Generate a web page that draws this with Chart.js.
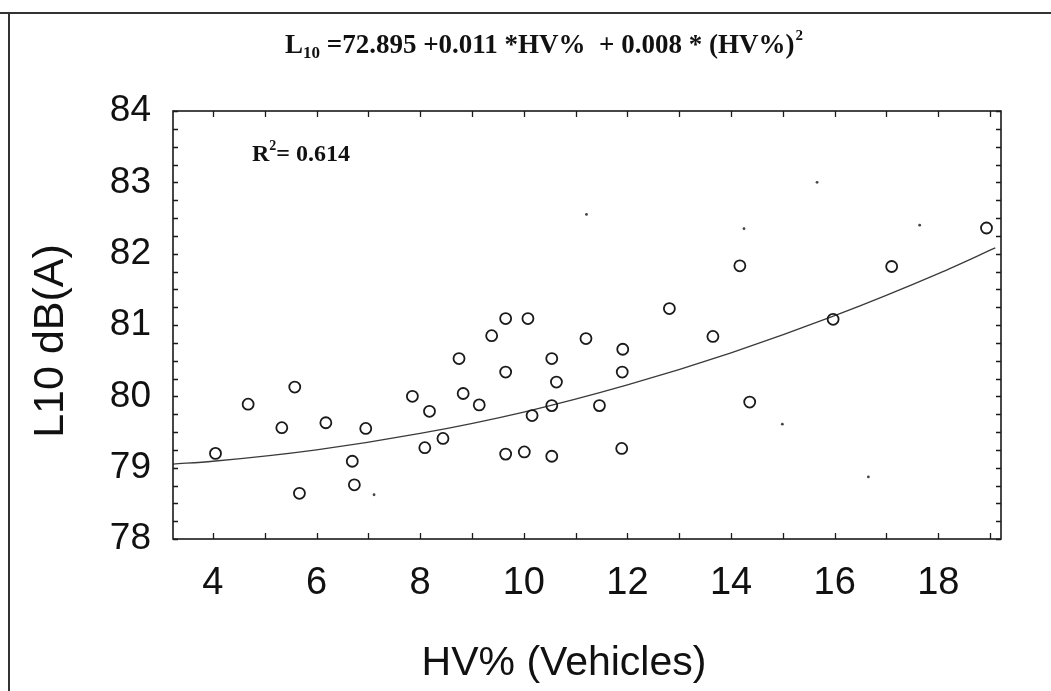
<!DOCTYPE html>
<html>
<head>
<meta charset="utf-8">
<title>L10 vs HV%</title>
<script src="https://cdn.jsdelivr.net/npm/chart.js@4.4.1/dist/chart.umd.min.js"></script>
<style>
  html, body { margin: 0; padding: 0; background: #fff; }
  #chart { display: block; }
</style>
</head>
<body>
<canvas id="chart" width="1051" height="691"></canvas>
<script>
// measured points (open circles)
const hvPct = [4.05, 4.68, 5.33, 5.58, 5.67, 6.18, 6.69, 6.73, 6.95, 7.85, 8.18, 8.09, 8.44, 8.75, 8.83, 9.14, 9.38, 9.65, 9.65, 9.65,
  10.08, 10.01, 10.16, 10.54, 10.63, 10.54, 10.54, 11.20, 11.46, 11.91, 11.90, 11.89, 12.81, 13.65, 14.17, 14.36, 15.97, 17.10, 18.93];
const l10 = [79.20, 79.89, 79.56, 80.13, 78.64, 79.63, 79.09, 78.76, 79.55, 80.00, 79.79, 79.28, 79.41, 80.53, 80.04, 79.88, 80.85, 81.09, 80.34, 79.19,
  81.09, 79.22, 79.73, 80.53, 80.20, 79.87, 79.16, 80.81, 79.87, 80.66, 80.34, 79.27, 81.23, 80.84, 81.83, 79.92, 81.08, 81.82, 82.36];

// small stray dots in the scan
const dotHv = [7.11, 11.21, 14.25, 14.99, 15.66, 16.65, 17.64];
const dotL10 = [78.62, 82.55, 82.35, 79.61, 83.00, 78.87, 82.40];

// fitted curve
const fitHv = [3.23, 4, 6, 8, 10, 12, 14, 16, 18, 19.1];
const fitL10 = [79.05, 79.09, 79.25, 79.48, 79.78, 80.16, 80.61, 81.13, 81.72, 82.08];

const xTicks = [4, 6, 8, 10, 12, 14, 16, 18];

const toXY = (xs, ys) => xs.map((x, i) => ({ x: x, y: ys[i] }));

const sans = "'Liberation Sans', Arial, sans-serif";
const serif = "'Liberation Serif', 'Times New Roman', serif";

const decorPlugin = {
  id: "decor",
  afterDraw(chart) {
    const ctx = chart.ctx;
    const { left, right, top, bottom } = chart.chartArea;
    const xs = chart.scales.x;
    const ys = chart.scales.y;
    ctx.save();

    // page frame (top and left edges of the scan)
    ctx.strokeStyle = "#333";
    ctx.lineWidth = 2;
    ctx.beginPath();
    ctx.moveTo(0, 13);
    ctx.lineTo(1051, 13);
    ctx.moveTo(9, 13);
    ctx.lineTo(9, 691);
    ctx.stroke();

    // plot box
    ctx.strokeStyle = "#1a1a1a";
    ctx.lineWidth = 1.6;
    ctx.strokeRect(left, top, right - left, bottom - top);

    // inward ticks
    ctx.lineWidth = 1.3;
    ctx.beginPath();
    for (let v = 4; v <= 19; v++) {
      const px = Math.round(xs.getPixelForValue(v)) + 0.5;
      ctx.moveTo(px, bottom);
      ctx.lineTo(px, bottom - 6);
      ctx.moveTo(px, top);
      ctx.lineTo(px, top + 6);
    }
    for (let v = 78; v <= 84.001; v += 0.25) {
      const py = Math.round(ys.getPixelForValue(v)) + 0.5;
      ctx.moveTo(left, py);
      ctx.lineTo(left + 5, py);
      ctx.moveTo(right, py);
      ctx.lineTo(right - 5, py);
    }
    ctx.stroke();

    ctx.fillStyle = "#111";

    // equation
    let x = 285;
    const base = 53;
    ctx.textBaseline = "alphabetic";
    ctx.textAlign = "left";
    ctx.font = "bold 27px " + serif;
    ctx.fillText("L", x, base);
    x += ctx.measureText("L").width;
    ctx.font = "bold 17px " + serif;
    ctx.fillText("10", x, base + 5);
    x += ctx.measureText("10").width;
    ctx.font = "bold 27px " + serif;
    const eq = " =72.895 +0.011 *HV%  + 0.008 * (HV%)";
    ctx.fillText(eq, x, base);
    x += ctx.measureText(eq).width;
    ctx.font = "bold 15px " + serif;
    ctx.fillText("2", x + 1, base - 13);

    // R squared
    x = 252;
    ctx.font = "bold 24px " + serif;
    ctx.fillText("R", x, 161);
    x += ctx.measureText("R").width;
    ctx.font = "bold 14px " + serif;
    ctx.fillText("2", x, 150);
    x += ctx.measureText("2").width;
    ctx.font = "bold 24px " + serif;
    ctx.fillText("= 0.614", x, 161);

    // axis titles
    ctx.font = "41px " + sans;
    ctx.textAlign = "center";
    ctx.textBaseline = "middle";
    ctx.fillText("HV% (Vehicles)", 564, 664);
    ctx.translate(51, 341);
    ctx.rotate(-Math.PI / 2);
    ctx.font = "43px " + sans;
    ctx.fillText("L10 dB(A)", 0, 0);

    ctx.restore();
  },
};

new Chart(document.getElementById("chart"), {
  type: "scatter",
  data: {
    datasets: [
      {
        label: "fit",
        type: "line",
        data: toXY(fitHv, fitL10),
        borderColor: "#3a3a3a",
        borderWidth: 1.3,
        pointRadius: 0,
        cubicInterpolationMode: "monotone",
        fill: false,
        order: 3,
      },
      {
        label: "dots",
        data: toXY(dotHv, dotL10),
        pointRadius: 1.4,
        pointBackgroundColor: "#444",
        pointBorderWidth: 0,
        order: 2,
      },
      {
        label: "L10",
        data: toXY(hvPct, l10),
        pointStyle: "circle",
        pointRadius: 5.5,
        pointBorderWidth: 1.8,
        pointBorderColor: "#1a1a1a",
        pointBackgroundColor: "rgba(255,255,255,0)",
        order: 1,
      },
    ],
  },
  options: {
    responsive: false,
    animation: false,
    devicePixelRatio: 1,
    layout: { padding: { left: 0, top: 111, right: 50, bottom: 0 } },
    plugins: {
      legend: { display: false },
      tooltip: { enabled: false },
      title: { display: false },
    },
    scales: {
      x: {
        type: "linear",
        min: 3.23,
        max: 19.21,
        grid: { display: false, drawTicks: false },
        border: { display: false },
        afterBuildTicks: (scale) => {
          scale.ticks = xTicks.map((v) => ({ value: v }));
        },
        afterFit: (scale) => {
          scale.height = 152;
        },
        ticks: {
          padding: 22,
          color: "#111",
          font: { family: sans, size: 38 },
          maxRotation: 0,
        },
      },
      y: {
        type: "linear",
        min: 78,
        max: 84,
        grid: { display: false, drawTicks: false },
        border: { display: false },
        afterFit: (scale) => {
          scale.width = 173;
        },
        ticks: {
          stepSize: 1,
          padding: 22,
          color: "#111",
          font: { family: sans, size: 37 },
        },
      },
    },
  },
  plugins: [decorPlugin],
});
</script>
</body>
</html>
